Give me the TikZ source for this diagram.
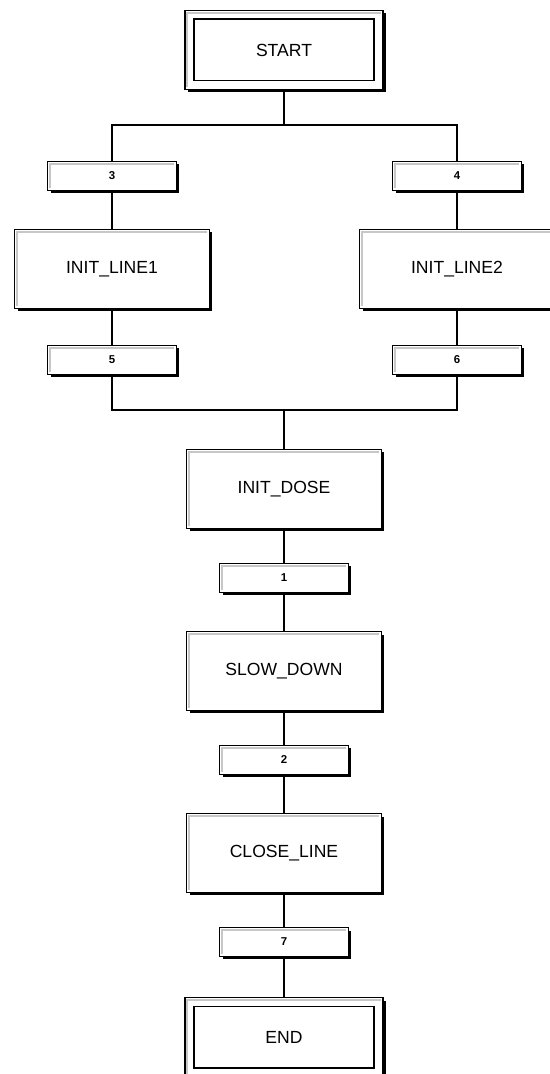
\documentclass[tikz,border=0pt]{standalone}
\usepackage{fontspec}
\setmainfont{Liberation Sans}
\usetikzlibrary{shadows}

\begin{document}
\begin{tikzpicture}[x=0.02cm, y=-0.02cm, every node/.style={font=\fontsize{10}{12}\selectfont},
  stepbox/.style={draw, line width=0.7pt, fill=white, minimum width=3.9cm, minimum height=1.58cm, align=center,
    drop shadow={shadow xshift=1.7pt, shadow yshift=-1.7pt, fill=black, opacity=1},
    path picture={\draw[black!22, line width=1.2pt] ([shift={(1.2pt,1.2pt)}]path picture bounding box.south west) |- ([shift={(-1.2pt,-1.2pt)}]path picture bounding box.north east);}},
  termbox/.style={stepbox, minimum width=3.96cm,
    path picture={\draw[black!22, line width=1.2pt] ([shift={(1.2pt,1.2pt)}]path picture bounding box.south west) |- ([shift={(-1.2pt,-1.2pt)}]path picture bounding box.north east);
      \draw[line width=0.9pt] ([shift={(5pt,5pt)}]path picture bounding box.south west) rectangle ([shift={(-5pt,-5pt)}]path picture bounding box.north east);}},
  tbox/.style={stepbox, minimum width=2.58cm, minimum height=0.58cm, font=\fontsize{6.5}{7}\selectfont\bfseries},
  link/.style={line width=0.85pt}]
\useasboundingbox (0,0) rectangle (550,1074);
% Initial step
\node[termbox] (start) at (284,50) {START};
% Parallel branches
\node[tbox] (t3) at (112,176) {3};
\node[tbox] (t4) at (457,176) {4};
\node[stepbox] (line1) at (112,269) {INIT\_LINE1};
\node[stepbox] (line2) at (457,269) {INIT\_LINE2};
\node[tbox] (t5) at (112,360) {5};
\node[tbox] (t6) at (457,360) {6};
\coordinate (split) at (284,125);
\coordinate (join) at (284,410);
% Main sequence
\node[stepbox] (dose) at (284,489) {INIT\_DOSE};
\node[tbox] (t1) at (284,578) {1};
\node[stepbox] (slow) at (284,671) {SLOW\_DOWN};
\node[tbox] (t2) at (284,760) {2};
\node[stepbox] (close) at (284,853) {CLOSE\_LINE};
\node[tbox] (t7) at (284,942) {7};
\node[termbox] (end) at (284,1037) {END};
% Connections
\draw[link] (start) -- (split);
\draw[link] (t3.north) |- (split) -| (t4.north);
\draw[link] (t3) -- (line1);
\draw[link] (t4) -- (line2);
\draw[link] (line1) -- (t5);
\draw[link] (line2) -- (t6);
\draw[link] (t5.south) |- (join) -| (t6.south);
\draw[link] (join) -- (dose);
\draw[link] (dose) -- (t1);
\draw[link] (t1) -- (slow);
\draw[link] (slow) -- (t2);
\draw[link] (t2) -- (close);
\draw[link] (close) -- (t7);
\draw[link] (t7) -- (end);
\end{tikzpicture}
\end{document}
